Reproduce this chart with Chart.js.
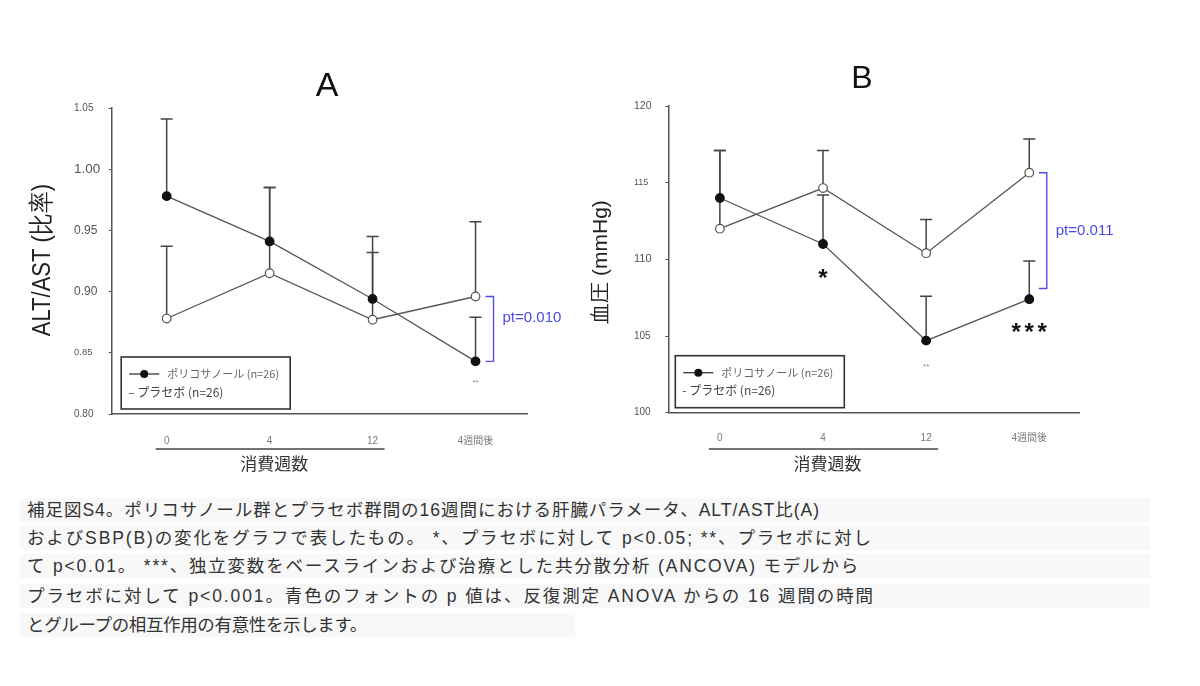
<!DOCTYPE html>
<html>
<head>
<meta charset="utf-8">
<script src="https://cdn.jsdelivr.net/npm/chart.js@4.4.1/dist/chart.umd.min.js"></script>
<style>
  body { margin: 0; background: #fff; width: 1200px; height: 686px; overflow: hidden; position: relative; }
  canvas { position: absolute; top: 0; }
  #chartA { left: 0; }
  #chartB { left: 580px; }
  .cap { position: absolute; left: 20px; height: 24px; line-height: 24px; padding-left: 7px; box-sizing: border-box;
         font-family: "Liberation Sans", "Noto Sans CJK JP", sans-serif; font-size: 17.5px; color: #333; background: #f8f8f8; white-space: nowrap; }
</style>
</head>
<body>
<canvas id="chartA" width="600" height="490"></canvas>
<canvas id="chartB" width="620" height="490"></canvas>

<div class="cap" style="top:498px;width:1130px"><span data-end="820">補足図S4。ポリコサノール群とプラセボ群間の16週間における肝臓パラメータ、ALT/AST比(A)</span></div>
<div class="cap" style="top:526px;width:1130px"><span data-end="873">およびSBP(B)の変化をグラフで表したもの。 *、プラセボに対して p&lt;0.05; **、プラセボに対し</span></div>
<div class="cap" style="top:554px;width:1130px"><span data-end="860">て p&lt;0.01。 ***、独立変数をベースラインおよび治療とした共分散分析 (ANCOVA) モデルから</span></div>
<div class="cap" style="top:584px;width:1130px"><span data-end="875">プラセボに対して p&lt;0.001。青色のフォントの p 値は、反復測定 ANOVA からの 16 週間の時間</span></div>
<div class="cap" style="top:613px;width:555px"><span data-end="367">とグループの相互作用の有意性を示します。</span></div>

<script>
// Time points shared by both panels.
const weekLabels = ["0", "4", "12", "4週間後"];

// Panel A: ALT/AST ratio, means and upper whisker length.
const altPolicosanol = [0.978, 0.941, 0.894, 0.843];
const altPolicosanolErr = [0.063, 0.044, 0.051, 0.036];
const altPlacebo = [0.878, 0.915, 0.877, 0.896];
const altPlaceboErr = [0.059, 0.070, 0.055, 0.061];
const altTicks = [0.80, 0.85, 0.90, 0.95, 1.00, 1.05];
const altBracket = [0.896, 0.843];

// Panel B: systolic blood pressure (mmHg).
const sbpPolicosanol = [114.0, 111.0, 104.7, 107.4];
const sbpPolicosanolErr = [3.1, 3.2, 2.9, 2.5];
const sbpPlacebo = [112.0, 114.65, 110.4, 115.65];
const sbpPlaceboErr = [5.1, 2.45, 2.2, 2.2];
const sbpTicks = [100, 105, 110, 115, 120];
const sbpBracket = [115.65, 108.1];

const LATIN = '"Liberation Sans", Arial, sans-serif';
const CJK = '"Noto Sans CJK JP", sans-serif';

// Caption lines in the source are loosely tracked; spread each to its original width.
document.querySelectorAll(".cap span").forEach((s) => {
  const r = s.getBoundingClientRect();
  const n = [...s.textContent].length;
  s.style.letterSpacing = ((Number(s.dataset.end) - r.left - r.width) / n) + "px";
});

function series(values, errs, filled) {
  return {
    data: values.map((v, i) => ({ x: i, y: v })),
    errs,
    borderColor: "#555",
    borderWidth: 1.3,
    pointRadius: 4.3,
    pointBackgroundColor: filled ? "#111" : "#fff",
    pointBorderColor: filled ? "#111" : "#555",
    pointBorderWidth: 1.2,
    tension: 0,
    clip: false,
  };
}

function panel(canvasId, cfg) {
  const errorBars = {
    id: "errorBars",
    beforeDatasetsDraw(chart) {
      const { ctx, scales: { x, y } } = chart;
      ctx.save();
      ctx.strokeStyle = "#444";
      ctx.lineWidth = 1.5;
      chart.data.datasets.forEach((ds) => {
        ds.data.forEach((p, i) => {
          const px = x.getPixelForValue(p.x);
          const y0 = y.getPixelForValue(p.y);
          const y1 = y.getPixelForValue(p.y + ds.errs[i]);
          ctx.beginPath();
          ctx.moveTo(px, y0); ctx.lineTo(px, y1);
          ctx.moveTo(px - 6, y1); ctx.lineTo(px + 6, y1);
          ctx.stroke();
        });
      });
      ctx.restore();
    },
  };

  const deco = {
    id: "deco",
    afterDraw(chart) {
      const { ctx, chartArea: a, scales: { x, y } } = chart;
      const off = cfg.canvasLeft;
      ctx.save();

      // panel letter
      ctx.fillStyle = "#111";
      ctx.font = `${cfg.letter.size}px ${LATIN}`;
      ctx.textAlign = "center";
      ctx.textBaseline = "middle";
      ctx.fillText(cfg.letter.text, cfg.letter.x - off, cfg.letter.y);

      // y axis title
      ctx.save();
      ctx.translate(cfg.yTitle.x - off, cfg.yTitle.y);
      ctx.rotate(-Math.PI / 2);
      ctx.scale(1, cfg.yTitle.stretch);
      ctx.font = `${cfg.yTitle.size}px ${LATIN}`;
      ctx.fillStyle = "#222";
      ctx.fillText(cfg.yTitle.text, 0, 0);
      ctx.restore();

      // x axis group line + title
      const gx0 = x.getPixelForValue(0) - 11, gx1 = x.getPixelForValue(2) + 12;
      ctx.strokeStyle = "#444";
      ctx.lineWidth = 1.3;
      ctx.beginPath(); ctx.moveTo(gx0, 449); ctx.lineTo(gx1, 449); ctx.stroke();
      ctx.fillStyle = "#333";
      ctx.font = `17px ${CJK}`;
      ctx.fillText("消費週数", (gx0 + gx1) / 2 + 4, 464);

      // significance bracket
      const bx = x.getPixelForValue(3) + cfg.bracketDx;
      const b0 = y.getPixelForValue(cfg.bracket[0]), b1 = y.getPixelForValue(cfg.bracket[1]);
      ctx.strokeStyle = "#5050e6";
      ctx.lineWidth = 1.4;
      ctx.beginPath();
      ctx.moveTo(bx - 8, b0); ctx.lineTo(bx, b0); ctx.lineTo(bx, b1); ctx.lineTo(bx - 8, b1);
      ctx.stroke();
      ctx.fillStyle = "#4a4ae0";
      ctx.font = `15px ${LATIN}`;
      ctx.textAlign = "left";
      ctx.fillText(cfg.ptText, bx + 9, (b0 + b1) / 2 + cfg.ptDy);

      // asterisks
      ctx.textAlign = "center";
      cfg.stars.forEach((s) => {
        const sx = x.getPixelForValue(s.i);
        const sy = y.getPixelForValue(s.v) + s.dy;
        if (s.small) {
          ctx.fillStyle = "#888";
          ctx.font = `8px ${LATIN}`;
          ctx.fillText(s.text, sx, sy);
        } else {
          ctx.fillStyle = "#111";
          ctx.font = `bold 24px ${LATIN}`;
          const n = s.text.length;
          for (let k = 0; k < n; k++) ctx.fillText("*", sx + (k - (n - 1) / 2) * 13, sy + 5);
        }
      });

      // legend box
      const lx = a.left + cfg.legendDx, ly = a.bottom - 57;
      ctx.strokeStyle = "#333";
      ctx.lineWidth = 1.6;
      ctx.strokeRect(lx, ly, 169, 52);
      ctx.strokeStyle = "#333";
      ctx.lineWidth = 1.3;
      ctx.beginPath(); ctx.moveTo(lx + 8, ly + 17); ctx.lineTo(lx + 38, ly + 17); ctx.stroke();
      ctx.fillStyle = "#111";
      ctx.beginPath(); ctx.arc(lx + 23, ly + 17, 4, 0, Math.PI * 2); ctx.fill();
      ctx.textAlign = "left";
      ctx.fillStyle = "#666";
      ctx.font = `11px ${CJK}`;
      ctx.fillText("ポリコサノール (n=26)", lx + 46, ly + 17);
      ctx.fillStyle = "#444";
      ctx.font = `12px ${CJK}`;
      ctx.fillText(cfg.placeboLabel, lx + 7, ly + 35);

      ctx.restore();
    },
  };

  return new Chart(document.getElementById(canvasId), {
    type: "line",
    data: {
      datasets: [
        series(cfg.policosanol, cfg.policosanolErr, true),
        series(cfg.placebo, cfg.placeboErr, false),
      ],
    },
    options: {
      responsive: false,
      animation: false,
      layout: { padding: cfg.padding },
      plugins: { legend: { display: false }, tooltip: { enabled: false } },
      scales: {
        x: {
          type: "linear",
          min: cfg.xMin,
          max: cfg.xMax,
          afterBuildTicks: (s) => { s.ticks = weekLabels.map((_, i) => ({ value: i })); },
          afterFit: (s) => { s.height = cfg.xHeight; },
          ticks: {
            callback: (v) => weekLabels[v],
            color: "#777",
            font: { family: '"Liberation Sans", "Noto Sans CJK JP", sans-serif', size: 10 },
            padding: cfg.xPad,
            maxRotation: 0,
            autoSkip: false,
          },
          grid: { display: false },
          border: { color: "#555", width: 1.5 },
        },
        y: {
          min: cfg.yTicks[0],
          max: cfg.yTicks[cfg.yTicks.length - 1],
          afterBuildTicks: (s) => { s.ticks = cfg.yTicks.map((v) => ({ value: v })); },
          afterFit: (s) => { s.width = cfg.yWidth; },
          ticks: {
            callback: cfg.yFormat,
            color: "#555",
            crossAlign: "far",
            font: (c) => ({ family: LATIN, size: cfg.tickSizes[c.index] }),
          },
          grid: { drawOnChartArea: false, drawTicks: true, tickLength: 3, color: "#555" },
          border: { color: "#555", width: 1.5 },
        },
      },
    },
    plugins: [errorBars, deco],
  });
}

panel("chartA", {
  canvasLeft: 0,
  policosanol: altPolicosanol, policosanolErr: altPolicosanolErr,
  placebo: altPlacebo, placeboErr: altPlaceboErr,
  yTicks: altTicks,
  yFormat: (v) => v.toFixed(2),
  tickSizes: [10, 9.5, 12, 12, 13.5, 10],
  padding: { left: 74, top: 108, right: 73, bottom: 0 },
  yWidth: 37.7, xHeight: 76, xPad: 13,
  xMin: -0.534, xMax: 3.5,
  letter: { text: "A", x: 327, y: 87, size: 34 },
  yTitle: { text: "ALT/AST (比率)", x: 43, y: 260, size: 22, stretch: 1.2 },
  bracket: altBracket, bracketDx: 18, ptText: "pt=0.010", ptDy: -11,
  stars: [{ i: 3, v: altPolicosanol[3], dy: 21, text: "**", small: true }],
  legendDx: 9.5,
  placeboLabel: "– プラセボ (n=26)",
});

panel("chartB", {
  canvasLeft: 580,
  policosanol: sbpPolicosanol, policosanolErr: sbpPolicosanolErr,
  placebo: sbpPlacebo, placeboErr: sbpPlaceboErr,
  yTicks: sbpTicks,
  yFormat: (v) => String(v),
  tickSizes: [10, 10, 11, 9, 10.5],
  padding: { left: 54, top: 106, right: 120.7, bottom: 0 },
  yWidth: 34.3, xHeight: 77.3, xPad: 12,
  xMin: -0.5, xMax: 3.485,
  letter: { text: "B", x: 862, y: 79, size: 32 },
  yTitle: { text: "血圧 (mmHg)", x: 601, y: 262, size: 21, stretch: 1 },
  bracket: sbpBracket, bracketDx: 17.5, ptText: "pt=0.011", ptDy: 0,
  stars: [
    { i: 1, v: sbpPolicosanol[1], dy: 30, text: "*" },
    { i: 3, v: sbpPolicosanol[3], dy: 29, text: "***" },
    { i: 2, v: sbpPolicosanol[2], dy: 26, text: "**", small: true },
  ],
  legendDx: 7,
  placeboLabel: "- プラセボ (n=26)",
});
</script>
</body>
</html>
